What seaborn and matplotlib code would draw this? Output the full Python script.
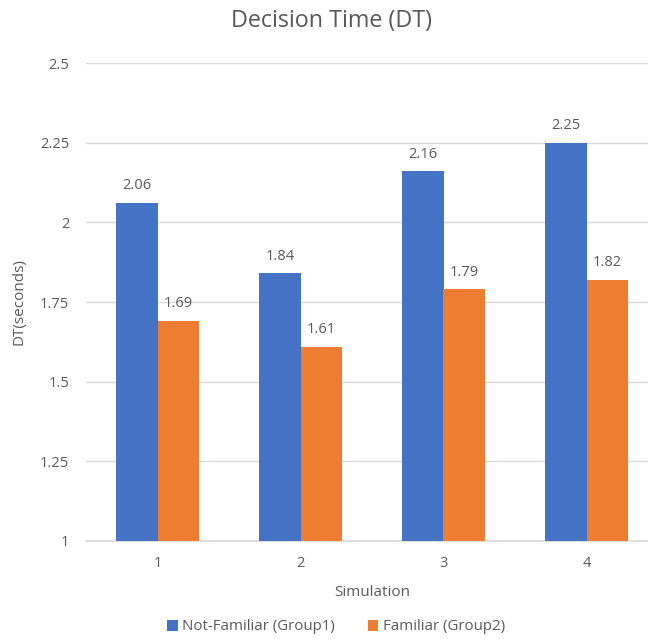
import matplotlib
matplotlib.use("Agg")
import matplotlib.pyplot as plt
import seaborn as sns
import pandas as pd
from matplotlib.patches import Patch

simulations = ["1", "2", "3", "4"]
group_names = ["Not-Familiar (Group1)", "Familiar (Group2)"]
not_familiar = [2.06, 1.84, 2.16, 2.25]
familiar = [1.69, 1.61, 1.79, 1.82]
y_ticks = [1, 1.25, 1.5, 1.75, 2, 2.25, 2.5]
y_tick_labels = ["1", "1.25", "1.5", "1.75", "2", "2.25", "2.5"]

colors = ["#4472C4", "#ED7D31"]
text_gray = "#595959"

df = pd.DataFrame({
    "Simulation": simulations * 2,
    "DT": not_familiar + familiar,
    "Group": [group_names[0]] * 4 + [group_names[1]] * 4,
})

sns.set_theme(style="white")
plt.rcParams["font.family"] = ["Open Sans", "DejaVu Sans"]

W, H = 648, 639
fig = plt.figure(figsize=(W / 100, H / 100), dpi=100)
# plot area runs past the right edge of the canvas
ax = fig.add_axes([86 / W, 1 - 541 / H, 572 / W, (541 - 63) / H])

sns.barplot(data=df, x="Simulation", y="DT", hue="Group", palette=colors,
            width=0.575, saturation=1, linewidth=0, ax=ax, legend=False,
            zorder=3)

ax.set_ylim(1, 2.5)
ax.set_yticks(y_ticks)
ax.set_yticklabels(y_tick_labels)
ax.grid(axis="y", color="#D9D9D9", linewidth=1, zorder=0)
ax.set_axisbelow(True)
for side in ["left", "right", "top"]:
    ax.spines[side].set_visible(False)
ax.spines["bottom"].set_color("#D9D9D9")
ax.spines["bottom"].set_linewidth(1.2)
ax.tick_params(axis="both", length=0, colors=text_gray, labelsize=10.5)
ax.tick_params(axis="y", pad=12)
ax.tick_params(axis="x", pad=11)

for container in ax.containers:
    ax.bar_label(container, fmt="%.2f", padding=7, color=text_gray, fontsize=10.5)

fig.text(331 / W, 1 - 21 / H, "Decision Time (DT)", color=text_gray,
         fontsize=16.8, ha="center", va="center")
ax.set_xlabel("Simulation", color=text_gray, fontsize=11, labelpad=10)
ax.set_ylabel("DT(seconds)", color=text_gray, fontsize=11, labelpad=10)

handles = [Patch(facecolor=c, edgecolor="none") for c in colors]
fig.legend(handles, group_names, loc="center", ncol=2, frameon=False,
           bbox_to_anchor=(336 / W, 1 - 627 / H), fontsize=10.8,
           labelcolor=text_gray, handlelength=0.7, handleheight=0.7,
           handletextpad=0.3, columnspacing=2.2)

fig.savefig("out.png", dpi=100)
